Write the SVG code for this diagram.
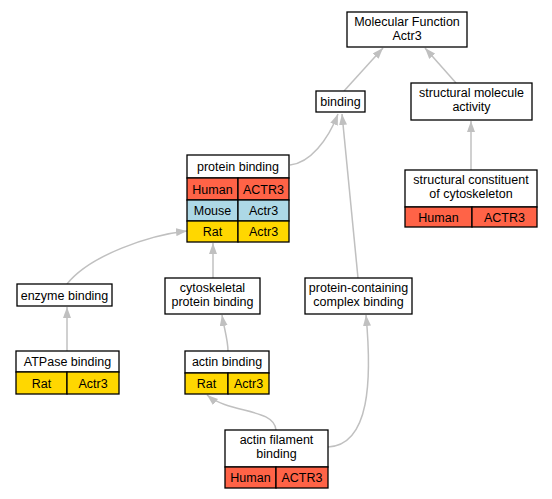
<svg xmlns="http://www.w3.org/2000/svg" width="552" height="499" viewBox="0 0 552 499">
<style>
  .box { fill: #ffffff; stroke: #000000; stroke-width: 1.3; }
  .human { fill: #ff6347; stroke: #000000; stroke-width: 1.3; }
  .mouse { fill: #add8e6; stroke: #000000; stroke-width: 1.3; }
  .rat { fill: #ffd700; stroke: #000000; stroke-width: 1.3; }
  text { font-family: "Liberation Sans", Arial, sans-serif; font-size: 12.5px; fill: #000000; text-anchor: middle; }
  .edge { fill: none; stroke: #c0c0c0; stroke-width: 1.5; marker-end: url(#arrow); }
</style>
<defs>
  <marker id="arrow" markerUnits="userSpaceOnUse" markerWidth="11" markerHeight="8" refX="11" refY="4" orient="auto">
    <path d="M0,0 L11,4 L0,8 z" fill="#c0c0c0"/>
  </marker>
</defs>
<rect width="552" height="499" fill="#ffffff"/>
<g id="edges">
  <path class="edge" d="M344,91 L383,48"/>
  <path class="edge" d="M456,83 L425,48"/>
  <path class="edge" d="M290,165 C310,163 328,140 338,114"/>
  <path class="edge" d="M358,278 L342,114"/>
  <path class="edge" d="M471,170 L471,121"/>
  <path class="edge" d="M67,284 C90,255 150,235 187,231"/>
  <path class="edge" d="M213,278 L213,243"/>
  <path class="edge" d="M67,351 L67,307"/>
  <path class="edge" d="M228,351 C228,340 224,328 222,315"/>
  <path class="edge" d="M276,430 C274,408 230,414 207,395"/>
  <path class="edge" d="M328,447 C370,445 372,380 366,315"/>
</g>
<g id="molecular_function">
  <rect class="box" x="347" y="12" width="120" height="35"/>
  <text x="407" y="26">Molecular Function</text>
  <text x="407" y="40">Actr3</text>
</g>
<g id="binding">
  <rect class="box" x="316" y="91" width="49" height="21"/>
  <text x="340.5" y="106">binding</text>
</g>
<g id="structural_molecule_activity">
  <rect class="box" x="411" y="83" width="121" height="37"/>
  <text x="471.5" y="97">structural molecule</text>
  <text x="471.5" y="111">activity</text>
</g>
<g id="protein_binding">
  <rect class="box" x="187" y="155" width="102" height="23"/>
  <text x="238" y="171">protein binding</text>
  <rect class="human" x="187" y="178" width="51" height="22"/>
  <rect class="human" x="238" y="178" width="51" height="22"/>
  <text x="212.5" y="193.5">Human</text>
  <text x="263.5" y="193.5">ACTR3</text>
  <rect class="mouse" x="187" y="200" width="51" height="21"/>
  <rect class="mouse" x="238" y="200" width="51" height="21"/>
  <text x="212.5" y="215">Mouse</text>
  <text x="263.5" y="215">Actr3</text>
  <rect class="rat" x="187" y="221" width="51" height="21"/>
  <rect class="rat" x="238" y="221" width="51" height="21"/>
  <text x="212.5" y="236">Rat</text>
  <text x="263.5" y="236">Actr3</text>
</g>
<g id="structural_constituent_of_cytoskeleton">
  <rect class="box" x="405" y="170" width="132" height="37"/>
  <text x="471" y="184">structural constituent</text>
  <text x="471" y="198">of cytoskeleton</text>
  <rect class="human" x="405" y="207" width="67" height="20"/>
  <rect class="human" x="472" y="207" width="65" height="20"/>
  <text x="438.5" y="221.5">Human</text>
  <text x="504.5" y="221.5">ACTR3</text>
</g>
<g id="enzyme_binding">
  <rect class="box" x="17" y="284" width="95" height="22"/>
  <text x="64.5" y="299.5">enzyme binding</text>
</g>
<g id="cytoskeletal_protein_binding">
  <rect class="box" x="165" y="278" width="95" height="36"/>
  <text x="212.5" y="292">cytoskeletal</text>
  <text x="212.5" y="306">protein binding</text>
</g>
<g id="protein_containing_complex_binding">
  <rect class="box" x="305" y="278" width="107" height="36"/>
  <text x="358.5" y="292">protein-containing</text>
  <text x="358.5" y="306">complex binding</text>
</g>
<g id="atpase_binding">
  <rect class="box" x="16" y="351" width="103" height="21"/>
  <text x="67.5" y="366">ATPase binding</text>
  <rect class="rat" x="16" y="372" width="51" height="22"/>
  <rect class="rat" x="67" y="372" width="52" height="22"/>
  <text x="41.5" y="387.5">Rat</text>
  <text x="93" y="387.5">Actr3</text>
</g>
<g id="actin_binding">
  <rect class="box" x="185" y="351" width="84" height="22"/>
  <text x="227" y="366">actin binding</text>
  <rect class="rat" x="185" y="373" width="43" height="21"/>
  <rect class="rat" x="228" y="373" width="41" height="21"/>
  <text x="206.5" y="387.5">Rat</text>
  <text x="248.5" y="387.5">Actr3</text>
</g>
<g id="actin_filament_binding">
  <rect class="box" x="225" y="430" width="103" height="37"/>
  <text x="276.5" y="444">actin filament</text>
  <text x="276.5" y="458">binding</text>
  <rect class="human" x="225" y="467" width="51" height="21"/>
  <rect class="human" x="276" y="467" width="52" height="21"/>
  <text x="250.5" y="482">Human</text>
  <text x="302" y="482">ACTR3</text>
</g>
</svg>
